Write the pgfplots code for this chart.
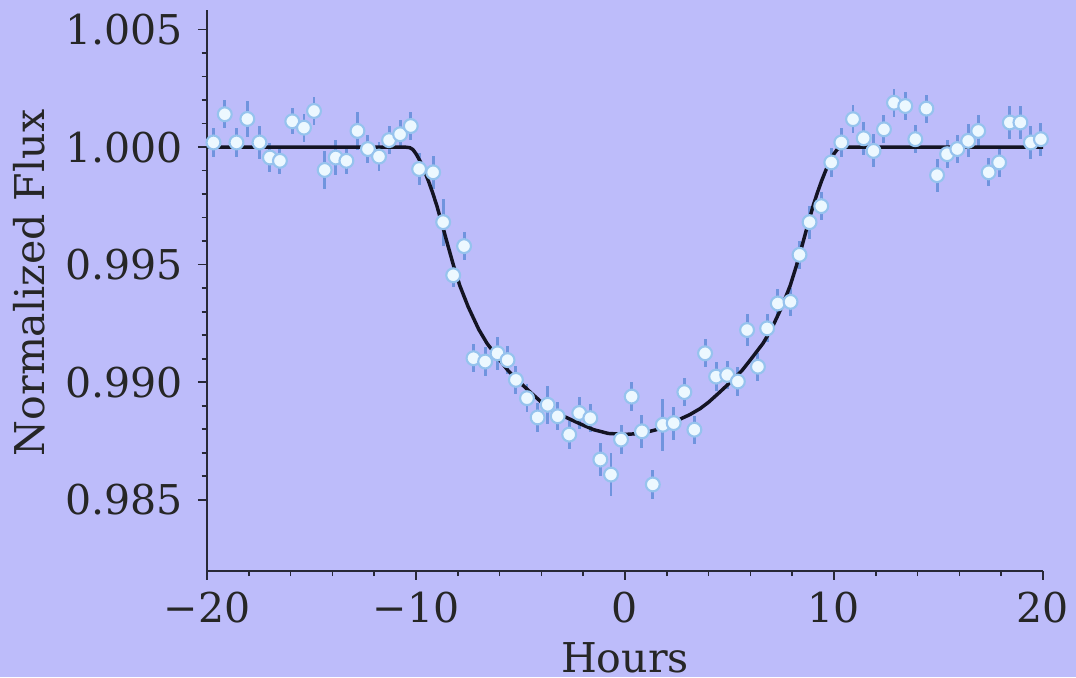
\documentclass[border=0pt]{standalone}
\usepackage{fontspec}
\setmainfont{DejaVu Serif}
\usepackage{pgfplots}
\usepackage{pgfplotstable}
\pgfplotsset{compat=1.18}
\definecolor{bgc}{RGB}{189,188,250}
\definecolor{errc}{RGB}{112,148,222}
\definecolor{mkfill}{RGB}{236,248,255}
\definecolor{mkdraw}{RGB}{150,195,238}
\definecolor{axc}{RGB}{40,40,55}
\definecolor{curvec}{RGB}{20,20,35}

\pgfplotstableread{
x y ey
-19.69 1.00020 0.00060
-19.15 1.00140 0.00060
-18.59 1.00020 0.00060
-18.07 1.00120 0.00075
-17.49 1.00020 0.00070
-16.99 0.99956 0.00060
-16.51 0.99942 0.00055
-15.92 1.00110 0.00055
-15.36 1.00083 0.00060
-14.88 1.00154 0.00060
-14.37 0.99903 0.00080
-13.84 0.99956 0.00075
-13.33 0.99942 0.00055
-12.80 1.00069 0.00080
-12.30 0.99992 0.00060
-11.77 0.99960 0.00060
-11.29 1.00030 0.00060
-10.76 1.00055 0.00060
-10.25 1.00090 0.00060
-9.85 0.99907 0.00070
-9.18 0.99893 0.00070
-8.70 0.99681 0.00100
-8.22 0.99455 0.00050
-7.70 0.99579 0.00060
-7.25 0.99102 0.00060
-6.69 0.99088 0.00060
-6.10 0.99123 0.00070
-5.62 0.99094 0.00060
-5.22 0.99010 0.00060
-4.69 0.98932 0.00060
-4.18 0.98850 0.00060
-3.70 0.98904 0.00080
-3.22 0.98855 0.00060
-2.67 0.98777 0.00060
-2.19 0.98869 0.00070
-1.66 0.98847 0.00060
-1.18 0.98671 0.00070
-0.67 0.98607 0.00090
-0.19 0.98756 0.00060
0.32 0.98939 0.00060
0.81 0.98791 0.00070
1.33 0.98565 0.00060
1.81 0.98819 0.00110
2.33 0.98826 0.00070
2.84 0.98958 0.00060
3.32 0.98798 0.00060
3.83 0.99123 0.00060
4.36 0.99024 0.00060
4.89 0.99031 0.00060
5.40 0.99003 0.00060
5.84 0.99222 0.00070
6.36 0.99066 0.00060
6.80 0.99229 0.00060
7.31 0.99335 0.00060
7.92 0.99342 0.00060
8.35 0.99542 0.00060
8.83 0.99681 0.00070
9.39 0.99749 0.00060
9.87 0.99935 0.00060
10.35 1.00020 0.00060
10.91 1.00119 0.00060
11.42 1.00038 0.00070
11.89 0.99984 0.00070
12.39 1.00076 0.00060
12.87 1.00189 0.00060
13.41 1.00175 0.00060
13.89 1.00034 0.00060
14.42 1.00164 0.00060
14.93 0.99881 0.00070
15.41 0.99970 0.00060
15.90 0.99992 0.00060
16.42 1.00027 0.00070
16.90 1.00069 0.00070
17.40 0.99893 0.00060
17.90 0.99935 0.00060
18.41 1.00105 0.00070
18.92 1.00105 0.00070
19.42 1.00020 0.00070
19.90 1.00034 0.00070
}\points

\pgfplotstableread{
x y
-20.00 1.00000
-10.50 1.00000
-10.30 0.99998
-10.15 0.99990
-10.00 0.99972
-9.80 0.99940
-9.60 0.99900
-9.40 0.99855
-9.20 0.99805
-9.00 0.99750
-8.70 0.99655
-8.50 0.99590
-8.20 0.99495
-7.90 0.99410
-7.50 0.99320
-7.00 0.99225
-6.60 0.99165
-6.00 0.99095
-5.60 0.99050
-5.10 0.99005
-4.50 0.98955
-4.00 0.98915
-3.60 0.98888
-3.10 0.98862
-2.20 0.98825
-1.50 0.98798
-0.80 0.98782
0.00 0.98778
0.80 0.98782
1.50 0.98798
2.20 0.98825
3.10 0.98862
3.60 0.98888
4.00 0.98915
4.50 0.98955
5.10 0.99005
5.60 0.99050
6.00 0.99095
6.60 0.99165
7.00 0.99225
7.50 0.99320
7.90 0.99410
8.20 0.99495
8.50 0.99590
8.70 0.99655
9.00 0.99750
9.20 0.99805
9.40 0.99855
9.60 0.99900
9.80 0.99940
10.00 0.99972
10.15 0.99990
10.30 0.99998
10.50 1.00000
20.00 1.00000
}\model

\begin{document}
\begin{tikzpicture}
\fill[bgc] (0,0) rectangle (403.5pt,253.875pt);
\useasboundingbox (0,0) rectangle (403.5pt,253.875pt);
\begin{axis}[
  at={(77.625pt,39.86pt)}, anchor=south west,
  scale only axis, width=313.5pt, height=210.3pt,
  xmin=-20, xmax=20, ymin=0.98198, ymax=1.00584,
  axis lines=left, axis line style={-, color=axc, line width=0.7pt},
  tick align=outside, tick style={color=axc, line width=0.6pt},
  major tick length=3.4pt, minor tick length=2pt,
  xtick={-20,-10,0,10,20},
  xticklabels={−20,−10,0,10,20},
  minor x tick num=4,
  ytick={0.985,0.990,0.995,1.000,1.005},
  yticklabels={0.985,0.990,0.995,1.000,1.005},
  minor y tick num=4,
  tick label style={font=\fontsize{15.4pt}{18pt}\selectfont, text=black!85},
  xticklabel style={inner sep=0pt, anchor=north, yshift=-4.5pt},
  yticklabel style={inner sep=0pt, anchor=east, xshift=-5.5pt},
  xlabel={Hours}, ylabel={Normalized Flux},
  every axis x label/.style={at={(axis description cs:0.5,-0.1266)}, anchor=north, inner sep=0pt, font=\fontsize{15.4pt}{18pt}\selectfont, text=black!85},
  every axis y label/.style={at={(axis description cs:-0.2321,0.513)}, rotate=90, anchor=north, inner sep=0pt, font=\fontsize{15.4pt}{18pt}\selectfont, text=black!85},
  clip=false,
]
\addplot[only marks, mark=*, mark size=2.6pt,
  mark options={fill=mkfill, draw=mkdraw, line width=0.8pt},
  error bars/.cd, y dir=both, y explicit,
  error mark=none,
  error bar style={color=errc, line width=1.1pt}]
  table[x=x, y=y, y error=ey] {\points};
\addplot[color=curvec, line width=1.3pt, line join=round] table[x=x, y=y] {\model};
\end{axis}
\end{tikzpicture}
\end{document}
